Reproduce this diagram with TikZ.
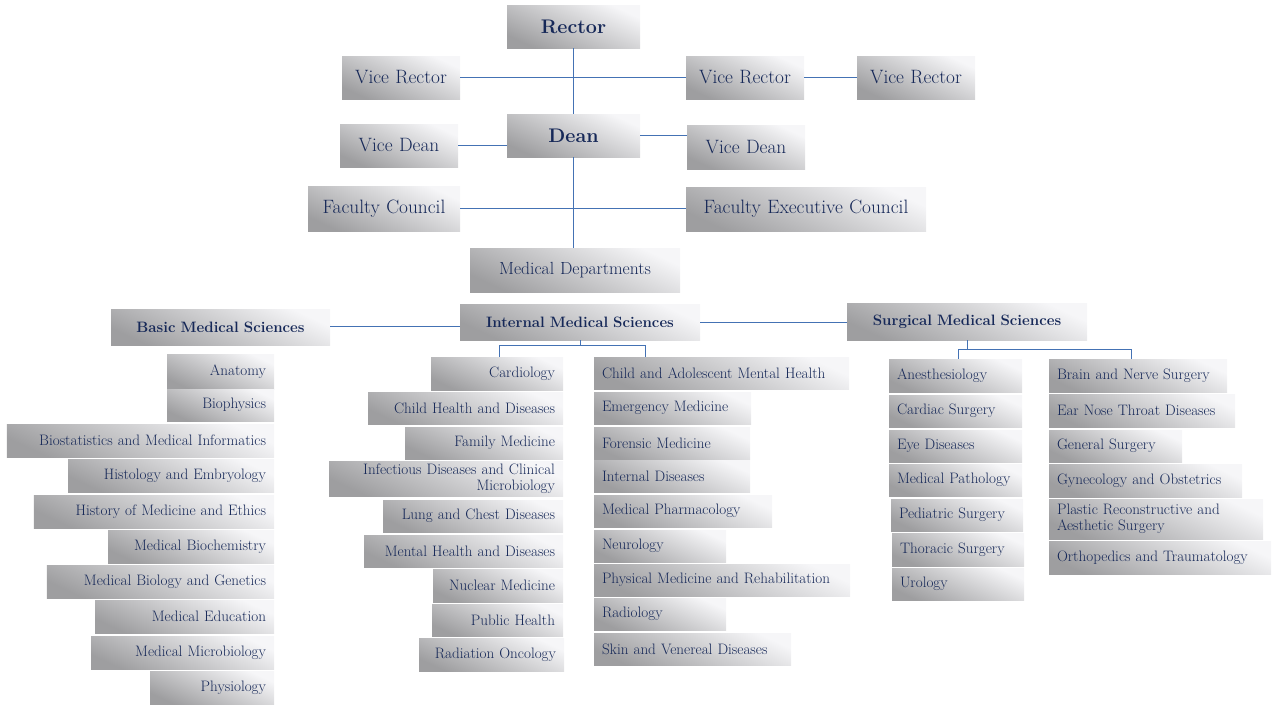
\documentclass[tikz,border=0pt]{standalone}
\usetikzlibrary{positioning}
\definecolor{navy}{RGB}{22,40,88}
\definecolor{linkblue}{RGB}{68,114,180}
\definecolor{boxdark}{RGB}{158,158,160}
\definecolor{boxlight}{RGB}{246,246,248}
\tikzset{
  box/.style = {shading=axis, bottom color=boxdark, top color=boxlight,
                shading angle=-25, text=navy, inner xsep=0.4cm, inner ysep=0pt,
                font=\fontsize{21.5}{21.5}\selectfont},
  big/.style = {font=\fontsize{27.5}{27.5}\selectfont},
  head/.style = {font=\fontsize{28}{28}\selectfont\bfseries},
  cat/.style = {font=\fontsize{21.4}{21.4}\selectfont\bfseries},
  two/.style = {font=\fontsize{21.5}{22}\selectfont},
  link/.style = {draw=linkblue, line width=0.8pt}
}
% \bx{name}{x1}{y1}{x2}{y2}{options}{text}
\newcommand\bx[7]{%
  \pgfmathsetmacro\bw{(#4-#2)*0.05}%
  \pgfmathsetmacro\bh{(#5-#3)*0.05}%
  \pgfmathsetmacro\tw{(#4-#2-16)*0.05}%
  \node[box, minimum width=\bw cm, minimum height=\bh cm, text width=\tw cm, #6]
    (#1) at ({(#2+#4)/2},{(#3+#5)/2}) {#7};}

\begin{document}
\begin{tikzpicture}[x=0.05cm, y=-0.05cm]
	\useasboundingbox (0,0) rectangle (1280,720);

	% Top
	\bx{rector}{507}{5}{640}{48}{head, align=center}{Rector}
	\bx{vr1}{342}{56}{460}{99}{big, align=center}{Vice Rector}
	\bx{vr2}{686}{56}{804}{99}{big, align=center}{Vice Rector}
	\bx{vr3}{857}{56}{975}{99}{big, align=center}{Vice Rector}
	\bx{dean}{507}{114}{640}{157}{head, align=center}{Dean}
	\bx{vd1}{340}{124}{458}{167}{big, align=center}{Vice Dean}
	\bx{vd2}{687}{125}{805}{169}{big, align=center}{Vice Dean}
	\bx{fc}{308}{186}{460}{231}{big, align=center}{Faculty Council}
	\bx{fec}{686}{187}{926}{231}{big, align=center}{Faculty Executive Council}
	\bx{md}{470}{248}{680}{292}{font=\fontsize{25}{25}\selectfont, align=center}{Medical Departments}

	% Categories
	\bx{basic}{111}{309}{330}{345}{cat, align=center}{Basic Medical Sciences}
	\bx{internal}{460}{304}{700}{340}{cat, align=center}{Internal Medical Sciences}
	\bx{surgical}{847}{303}{1087}{340}{cat, align=center}{Surgical Medical Sciences}

	% Basic
	\bx{anat}{167}{354}{274}{389}{align=right}{Anatomy}
	\bx{biophys}{167}{389}{274}{421}{align=right}{Biophysics}
	\bx{biostat}{7}{424}{274}{457}{align=right}{Biostatistics and Medical Informatics}
	\bx{histo}{68}{459}{274}{492}{align=right}{Histology and Embryology}
	\bx{history}{34}{495}{274}{528}{align=right}{History of Medicine and Ethics}
	\bx{biochem}{108}{530}{274}{563}{align=right}{Medical Biochemistry}
	\bx{biogen}{47}{565}{274}{598}{align=right}{Medical Biology and Genetics}
	\bx{educ}{95}{600}{274}{633}{align=right}{Medical Education}
	\bx{micro}{91}{636}{274}{669}{align=right}{Medical Microbiology}
	\bx{physio}{150}{671}{274}{704}{align=right}{Physiology}

	% Internal, left column
	\bx{cardio}{431}{357}{563}{390}{align=right}{Cardiology}
	\bx{child}{368}{392}{563}{424}{align=right}{Child Health and Diseases}
	\bx{family}{405}{427}{563}{459}{align=right}{Family Medicine}
	\bx{infect}{329}{461}{563}{496}{two, align=right}{Infectious Diseases and Clinical\\Microbiology}
	\bx{lung}{383}{500}{563}{532}{align=right}{Lung and Chest Diseases}
	\bx{mental}{364}{535}{563}{567}{align=right}{Mental Health and Diseases}
	\bx{nuclear}{433}{569}{563}{602}{align=right}{Nuclear Medicine}
	\bx{public}{432}{604}{563}{636}{align=right}{Public Health}
	\bx{radonc}{419}{638}{564}{671}{align=right}{Radiation Oncology}

	% Internal, right column
	\bx{adol}{594}{357}{849}{389}{align=left}{Child and Adolescent Mental Health}
	\bx{emerg}{594}{392}{751}{424}{align=left}{Emergency Medicine}
	\bx{foren}{594}{427}{750}{459}{align=left}{Forensic Medicine}
	\bx{intdis}{594}{460}{750}{492}{align=left}{Internal Diseases}
	\bx{pharm}{594}{495}{772}{527}{align=left}{Medical Pharmacology}
	\bx{neuro}{594}{530}{726}{562}{align=left}{Neurology}
	\bx{physmed}{594}{564}{850}{596}{align=left}{Physical Medicine and Rehabilitation}
	\bx{radio}{594}{598}{726}{630}{align=left}{Radiology}
	\bx{skin}{594}{633}{791}{665}{align=left}{Skin and Venereal Diseases}

	% Surgical, left column
	\bx{anest}{889}{359}{1022}{392}{align=left}{Anesthesiology}
	\bx{cardsurg}{889}{395}{1022}{427}{align=left}{Cardiac Surgery}
	\bx{eye}{889}{430}{1022}{462}{align=left}{Eye Diseases}
	\bx{path}{889}{464}{1022}{496}{align=left}{Medical Pathology}
	\bx{pedsurg}{891}{499}{1023}{531}{align=left}{Pediatric Surgery}
	\bx{thorsurg}{892}{533}{1024}{566}{align=left}{Thoracic Surgery}
	\bx{uro}{892}{568}{1024}{600}{align=left}{Urology}

	% Surgical, right column
	\bx{brain}{1049}{359}{1227}{392}{align=left}{Brain and Nerve Surgery}
	\bx{ent}{1049}{394}{1235}{427}{align=left}{Ear Nose Throat Diseases}
	\bx{gensurg}{1049}{430}{1182}{462}{align=left}{General Surgery}
	\bx{gyn}{1049}{464}{1242}{497}{align=left}{Gynecology and Obstetrics}
	\bx{plastic}{1049}{499}{1263}{539}{two, align=left}{Plastic Reconstructive and\\Aesthetic Surgery}
	\bx{ortho}{1049}{541}{1271}{574}{align=left}{Orthopedics and Traumatology}

	% Links
	\coordinate (il) at (499,357);
	\coordinate (ir) at (645,357);
	\coordinate (sl) at (958,359);
	\coordinate (sr) at (1131,359);
	\draw[link] (rector.south) -- (dean.north);
	\draw[link] (vr1.east) -- (vr2.west);
	\draw[link] (vr2.east) -- (vr3.west);
	\draw[link] (vd1.east) -- (vd1.east -| dean.west);
	\draw[link] (dean.east) -- (dean.east -| vd2.west);
	\draw[link] (dean.south) -- (dean.south |- md.north);
	\draw[link] (fc.east) -- (fc.east -| fec.west);
	\draw[link] (basic.east) ++(0,-1) -- ++(130,0);
	\draw[link] (internal.east) -- (internal.east -| surgical.west);
	\draw[link] (internal.south) -- ++(0,5) -| (il);
	\draw[link] (internal.south) -- ++(0,5) -| (ir);
	\draw[link] (surgical.south) -- ++(0,9) -| (sl);
	\draw[link] (surgical.south) -- ++(0,9) -| (sr);
\end{tikzpicture}
\end{document}
